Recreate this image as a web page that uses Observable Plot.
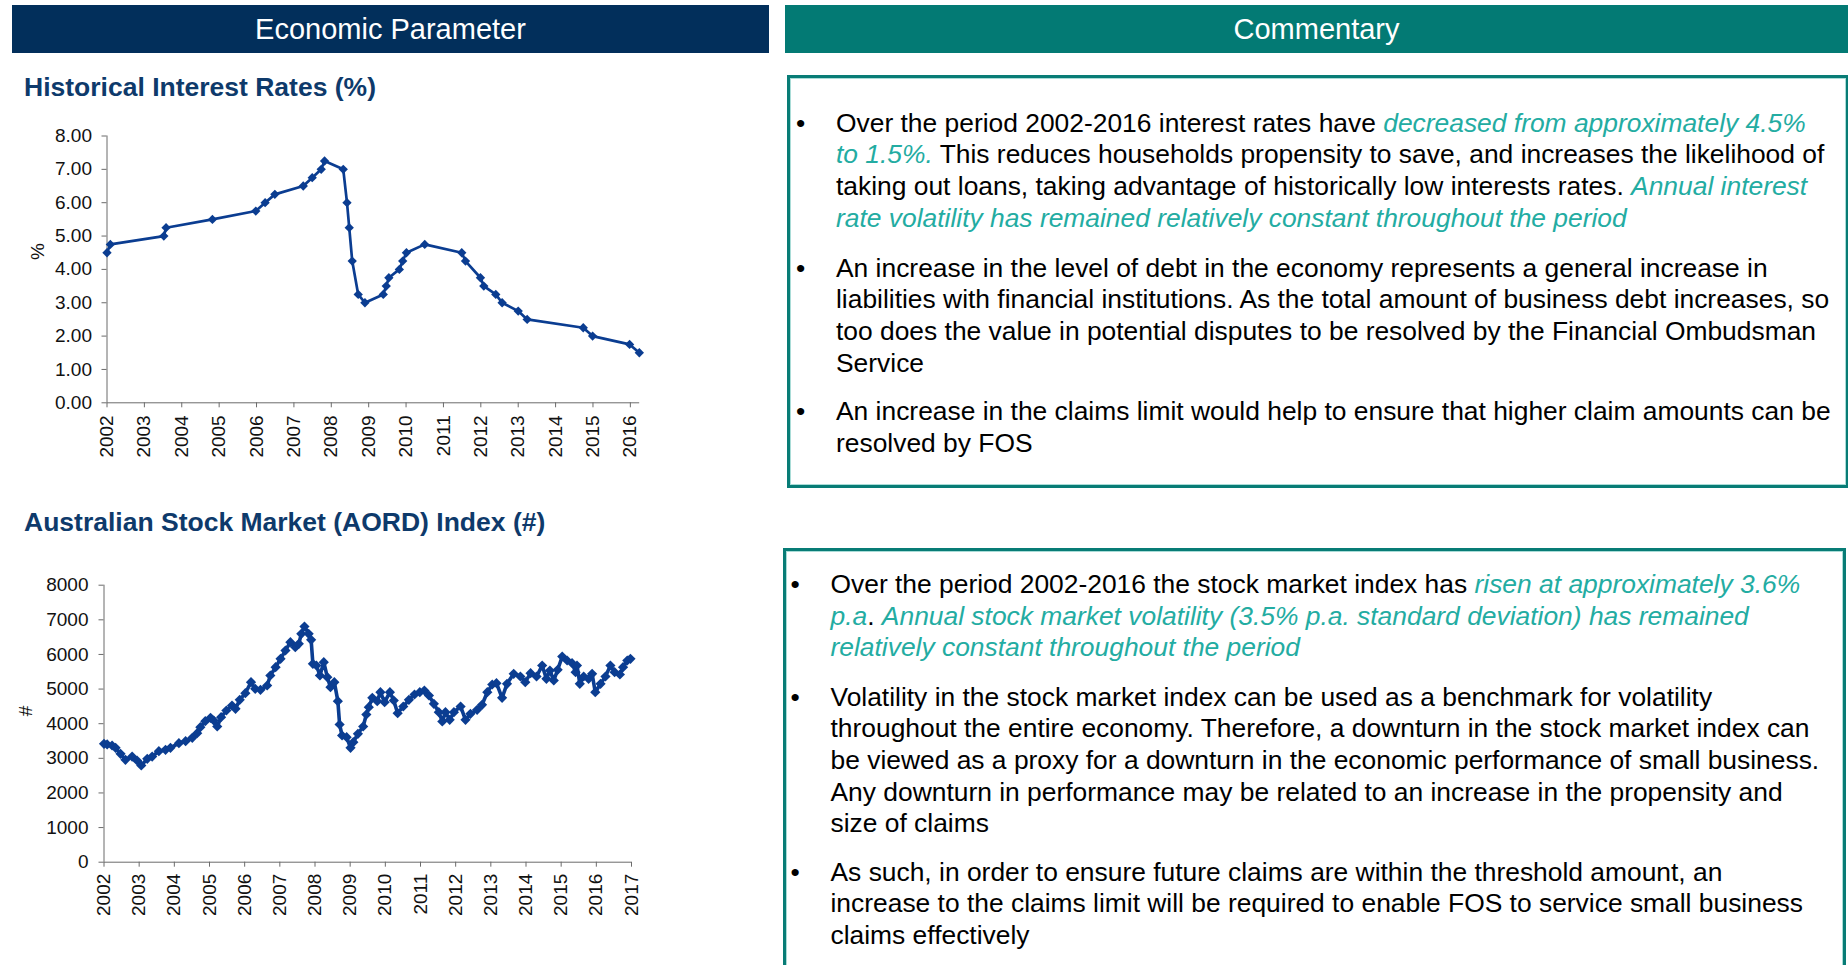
<!DOCTYPE html>
<html>
<head>
<meta charset="utf-8">
<script src="https://cdn.jsdelivr.net/npm/d3@7"></script>
<script src="https://cdn.jsdelivr.net/npm/@observablehq/plot@0.6"></script>
<style>
  html, body { margin: 0; padding: 0; background: #fff; }
  body { width: 1848px; height: 965px; position: relative; overflow: hidden;
         font-family: Arial, "Liberation Sans", sans-serif; }
  .hdr { position: absolute; top: 5px; height: 48.3px; color: #fff; font-size: 29px;
         display: flex; align-items: center; justify-content: center; }
  .title { position: absolute; left: 24px; font-weight: bold; font-size: 26.5px; line-height: 1;
           color: #0e3a6b; white-space: nowrap; }
  .box { position: absolute; box-sizing: border-box; border: 3.4px solid #087c76;
         box-shadow: inset 0 0 0 1px #a9dcd7; }
  .para { position: absolute; font-size: 26.4px; line-height: 31.7px; color: #000; white-space: nowrap; }
  .para .b { position: absolute; }
  .hl { color: #23aca2; font-style: italic; }
  .chart { position: absolute; left: 0; }
</style>
</head>
<body>
<div class="hdr" style="left:12px;width:757px;background:#022f5b;">Economic Parameter</div>
<div class="hdr" style="left:785px;width:1063px;background:#037a74;">Commentary</div>

<div class="title" style="top:73.8px;">Historical Interest Rates (%)</div>
<div class="title" style="top:508.8px;">Australian Stock Market (AORD) Index (#)</div>

<div id="chart1" class="chart" style="top:120px;"></div>
<div id="chart2" class="chart" style="top:560px;"></div>

<div class="box" style="left:786.7px;top:75px;width:1062px;height:413.3px;"></div>
<div class="box" style="left:782.5px;top:548px;width:1063.5px;height:430px;"></div>

<div class="para" style="left:836px;top:107.5px;"><span class="b" style="left:-40px;">•</span>Over the period 2002-2016 interest rates have <span class="hl">decreased from approximately 4.5%</span><br><span class="hl">to 1.5%.</span> This reduces households propensity to save, and increases the likelihood of<br>taking out loans, taking advantage of historically low interests rates. <span class="hl">Annual interest</span><br><span class="hl">rate volatility has remained relatively constant throughout the period</span></div>
<div class="para" style="left:836px;top:252.5px;"><span class="b" style="left:-40px;">•</span>An increase in the level of debt in the economy represents a general increase in<br>liabilities with financial institutions. As the total amount of business debt increases, so<br>too does the value in potential disputes to be resolved by the Financial Ombudsman<br>Service</div>
<div class="para" style="left:836px;top:396px;"><span class="b" style="left:-40px;">•</span>An increase in the claims limit would help to ensure that higher claim amounts can be<br>resolved by FOS</div>

<div class="para" style="left:830.5px;top:569px;"><span class="b" style="left:-40px;">•</span>Over the period 2002-2016 the stock market index has <span class="hl">risen at approximately 3.6%</span><br><span class="hl">p.a</span>. <span class="hl">Annual stock market volatility (3.5% p.a. standard deviation) has remained</span><br><span class="hl">relatively constant throughout the period</span></div>
<div class="para" style="left:830.5px;top:681.5px;"><span class="b" style="left:-40px;">•</span>Volatility in the stock market index can be used as a benchmark for volatility<br>throughout the entire economy. Therefore, a downturn in the stock market index can<br>be viewed as a proxy for a downturn in the economic performance of small business.<br>Any downturn in performance may be related to an increase in the propensity and<br>size of claims</div>
<div class="para" style="left:830.5px;top:856.5px;"><span class="b" style="left:-40px;">•</span>As such, in order to ensure future claims are within the threshold amount, an<br>increase to the claims limit will be required to enable FOS to service small business<br>claims effectively</div>

<script>
// ---- Historical interest rates (%) ----
const rateYears = [2002.00, 2002.09, 2003.52, 2003.58, 2004.82, 2005.98, 2006.23, 2006.49, 2007.25, 2007.49,
  2007.73, 2007.82, 2008.32, 2008.42, 2008.48, 2008.56, 2008.72, 2008.90, 2009.39, 2009.47,
  2009.54, 2009.82, 2009.91, 2010.01, 2010.50, 2011.49, 2011.59, 2011.99, 2012.08, 2012.40,
  2012.57, 2013.00, 2013.24, 2014.74, 2014.99, 2015.98, 2016.24];
const rateValues = [4.50, 4.75, 5.00, 5.25, 5.50, 5.75, 6.00, 6.25, 6.50, 6.75,
  7.00, 7.25, 7.00, 6.00, 5.25, 4.25, 3.25, 3.00, 3.25, 3.50,
  3.75, 4.00, 4.25, 4.50, 4.75, 4.50, 4.25, 3.75, 3.50, 3.25,
  3.00, 2.75, 2.50, 2.25, 2.00, 1.75, 1.50];
const rateYTicks = [0, 1, 2, 3, 4, 5, 6, 7, 8];
const rateXTicks = [2002, 2003, 2004, 2005, 2006, 2007, 2008, 2009, 2010, 2011, 2012, 2013, 2014, 2015, 2016];

// ---- Australian stock market (AORD) index ----
const stockYears = [2002.00, 2002.09, 2002.23, 2002.33, 2002.47, 2002.61, 2002.80, 2002.94, 2003.06, 2003.23,
  2003.37, 2003.56, 2003.75, 2003.89, 2004.13, 2004.32, 2004.51, 2004.65, 2004.74, 2004.88,
  2005.03, 2005.12, 2005.22, 2005.33, 2005.48, 2005.64, 2005.74, 2005.86, 2006.02, 2006.18,
  2006.30, 2006.45, 2006.64, 2006.73, 2006.88, 2007.02, 2007.16, 2007.30, 2007.44, 2007.54,
  2007.61, 2007.70, 2007.82, 2007.89, 2007.94, 2008.04, 2008.14, 2008.25, 2008.35, 2008.44,
  2008.55, 2008.65, 2008.70, 2008.77, 2008.90, 2009.01, 2009.09, 2009.22, 2009.37, 2009.46,
  2009.53, 2009.63, 2009.77, 2009.86, 2009.98, 2010.13, 2010.24, 2010.35, 2010.51, 2010.67,
  2010.83, 2010.98, 2011.11, 2011.24, 2011.38, 2011.52, 2011.62, 2011.71, 2011.83, 2011.95,
  2012.14, 2012.28, 2012.42, 2012.61, 2012.75, 2012.90, 2013.04, 2013.16, 2013.32, 2013.46,
  2013.65, 2013.84, 2013.98, 2014.13, 2014.30, 2014.46, 2014.58, 2014.68, 2014.79, 2014.90,
  2015.03, 2015.17, 2015.31, 2015.41, 2015.45, 2015.53, 2015.64, 2015.78, 2015.88, 2015.97,
  2016.12, 2016.26, 2016.40, 2016.52, 2016.67, 2016.76, 2016.88, 2016.97];
const stockValues = [3420, 3400, 3370, 3304, 3130, 2957, 3052, 2937, 2793, 2986,
  3052, 3206, 3246, 3304, 3437, 3495, 3593, 3726, 3899, 4072,
  4170, 4092, 3919, 4188, 4381, 4526, 4430, 4690, 4881, 5199,
  5008, 4979, 5103, 5392, 5632, 5874, 6114, 6354, 6209, 6307,
  6596, 6807, 6596, 6423, 5730, 5681, 5392, 5776, 5343, 5054,
  5199, 4650, 3977, 3659, 3610, 3304, 3466, 3708, 3919, 4266,
  4477, 4748, 4650, 4910, 4621, 4910, 4670, 4303, 4497, 4690,
  4843, 4910, 4959, 4814, 4574, 4332, 4064, 4332, 4113, 4332,
  4497, 4113, 4286, 4401, 4546, 4910, 5132, 5170, 4748, 5152,
  5441, 5363, 5199, 5459, 5363, 5681, 5296, 5536, 5248, 5556,
  5941, 5825, 5748, 5487, 5681, 5152, 5363, 5296, 5441, 4910,
  5152, 5363, 5681, 5487, 5421, 5632, 5825, 5874];
const stockYTicks = [0, 1000, 2000, 3000, 4000, 5000, 6000, 7000, 8000];
const stockXTicks = [2002, 2003, 2004, 2005, 2006, 2007, 2008, 2009, 2010, 2011, 2012, 2013, 2014, 2015, 2016, 2017];

const LINE = "#0b3d91";
const AXIS = "#6b6b6b";
const FONT = "Arial, 'Liberation Sans', sans-serif";

const rates = rateYears.map((x, i) => ({x, y: rateValues[i]}));
const stocks = stockYears.map((x, i) => ({x, y: stockValues[i]}));

const chart1 = Plot.plot({
  width: 680, height: 350,
  marginLeft: 106.5, marginRight: 40.8, marginTop: 15.5, marginBottom: 67.7,
  style: {fontFamily: FONT, fontSize: "19px", color: "#111", background: "transparent", overflow: "visible"},
  x: {domain: [2002, 2016.25]},
  y: {domain: [0, 8]},
  marks: [
    Plot.axisY({ticks: rateYTicks, tickFormat: d => d.toFixed(2), tickSize: 5, tickPadding: 10, stroke: AXIS, label: null}),
    Plot.axisX({ticks: rateXTicks, tickFormat: d => String(d), tickSize: 5, tickPadding: 7.5, tickRotate: -90, stroke: AXIS, label: null}),
    Plot.ruleX([2002], {stroke: AXIS}),
    Plot.ruleY([0], {stroke: AXIS}),
    Plot.line(rates, {x: "x", y: "y", stroke: LINE, strokeWidth: 2.7}),
    Plot.dot(rates, {x: "x", y: "y", symbol: "diamond2", r: 4.2, fill: LINE, stroke: null}),
    Plot.text(["%"], {frameAnchor: "left", dx: -69.5, dy: -9.4, rotate: -90, fontSize: 19, fill: "#111"})
  ]
});
document.getElementById("chart1").appendChild(chart1);

const chart2 = Plot.plot({
  width: 680, height: 360,
  marginLeft: 103.5, marginRight: 49, marginTop: 24.7, marginBottom: 58.3,
  style: {fontFamily: FONT, fontSize: "19px", color: "#111", background: "transparent", overflow: "visible"},
  x: {domain: [2002, 2017]},
  y: {domain: [0, 8000]},
  marks: [
    Plot.axisY({ticks: stockYTicks, tickFormat: d => String(d), tickSize: 5, tickPadding: 10.5, stroke: AXIS, label: null}),
    Plot.axisX({ticks: stockXTicks, tickFormat: d => String(d), tickSize: 5, tickPadding: 6.5, tickRotate: -90, stroke: AXIS, label: null}),
    Plot.ruleX([2002], {stroke: AXIS}),
    Plot.ruleY([0], {stroke: AXIS}),
    Plot.line(stocks, {x: "x", y: "y", stroke: LINE, strokeWidth: 3.6}),
    Plot.dot(stocks, {x: "x", y: "y", symbol: "diamond2", r: 4.6, fill: LINE, stroke: null}),
    Plot.text(["#"], {frameAnchor: "left", dx: -78.5, dy: -7.5, rotate: -90, fontSize: 19, fill: "#111"})
  ]
});
document.getElementById("chart2").appendChild(chart2);
</script>
</body>
</html>
